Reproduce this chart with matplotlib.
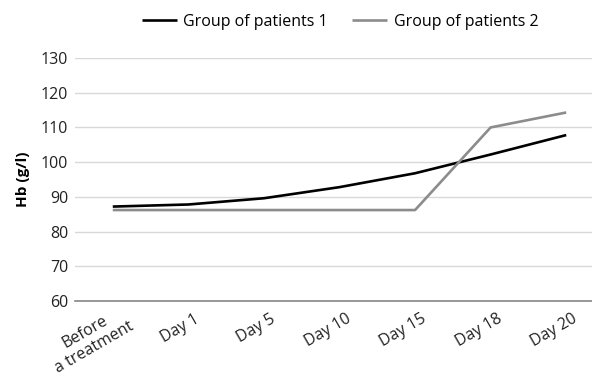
import matplotlib
matplotlib.use("Agg")
import matplotlib.pyplot as plt
import matplotlib.transforms as mtransforms

plt.rcParams['font.family'] = ['Open Sans', 'DejaVu Sans']

categories = ['Before\na treatment', 'Day 1', 'Day 5', 'Day 10', 'Day 15', 'Day 18', 'Day 20']
group1 = [87.2, 87.8, 89.6, 92.8, 96.8, 102.2, 107.8]
group2 = [86.2, 86.2, 86.2, 86.2, 86.2, 110.0, 114.3]
yticks = [60, 70, 80, 90, 100, 110, 120, 130]

fig = plt.figure(figsize=(5.92, 3.77), dpi=100)
ax = fig.add_axes([75 / 592, 76 / 377, 529 / 592, 243 / 377])

x = range(len(categories))
ax.plot(x, group1, color='black', lw=1.9, label='Group of patients 1', solid_capstyle='butt')
ax.plot(x, group2, color='#8c8c8c', lw=1.9, label='Group of patients 2', solid_capstyle='butt')

ax.set_xlim(-0.5, len(categories) - 0.5)
ax.set_ylim(60, 130)
ax.set_yticks(yticks)
ax.tick_params(axis='y', length=0, labelsize=11.5, pad=5, colors='#222222')
ax.set_xticks(list(x))
ax.set_xticklabels([])
ax.tick_params(axis='x', length=0)
ax.grid(axis='y', color='#d9d9d9', lw=1)
ax.set_axisbelow(True)
for s in ['top', 'right', 'left']:
    ax.spines[s].set_visible(False)
ax.spines['bottom'].set_color('#868686')
ax.spines['bottom'].set_linewidth(1.2)

# rotated category labels, Excel style
base = mtransforms.blended_transform_factory(ax.transData, ax.transAxes)
for i, lab in enumerate(categories):
    dx, dy = 6, -10
    if '\n' in lab:
        dx, dy = 7, -2
    off = mtransforms.ScaledTranslation(dx / 100, dy / 100, fig.dpi_scale_trans)
    ax.text(i, 0, lab, transform=base + off, rotation=30, rotation_mode='anchor',
            ha='right', va='top', multialignment='center', fontsize=11.5,
            color='#222222', linespacing=1.15)

ax.set_ylabel('Hb (g/l)', fontweight='bold', fontsize=11, labelpad=8)

fig.legend(loc='center', bbox_to_anchor=(340 / 592, 1 - 22 / 377), ncol=2,
           frameon=False, fontsize=11.5, handlelength=2.2, columnspacing=1.5,
           handletextpad=0.4)

fig.savefig('out.png', dpi=100)
